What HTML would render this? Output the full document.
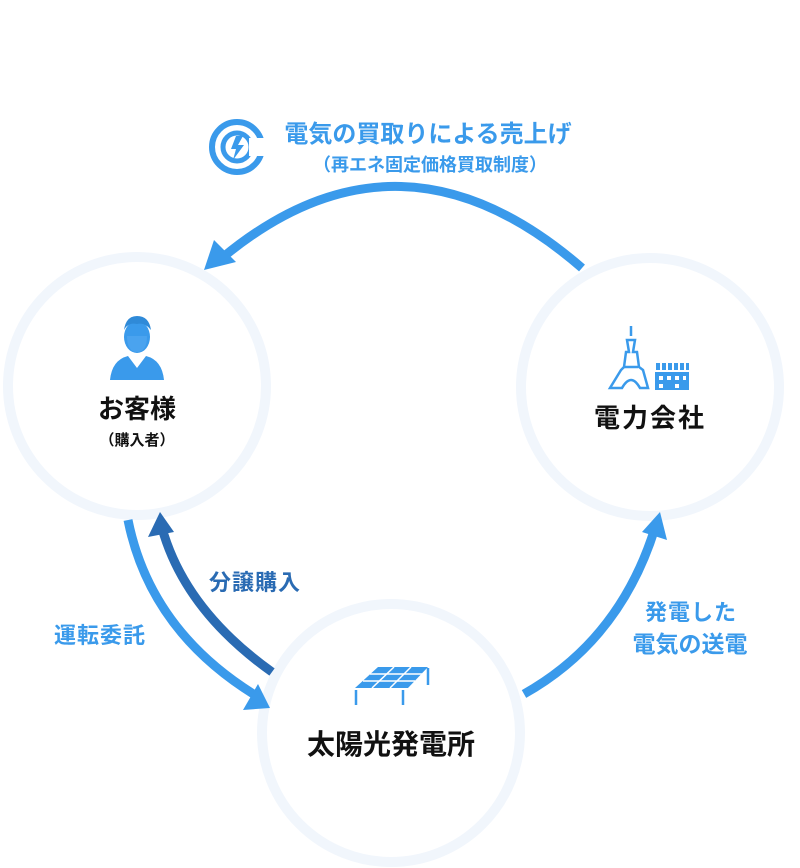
<!DOCTYPE html>
<html><head><meta charset="utf-8"><style>
html,body{margin:0;padding:0;background:#fff;}
svg{display:block;}
text{font-family:"Liberation Sans","Noto Sans CJK JP",sans-serif;font-weight:bold;}
</style></head><body>
<svg width="800" height="868" viewBox="0 0 800 868" xmlns="http://www.w3.org/2000/svg">
<!-- circles -->
<g fill="#fff" stroke="#f1f6fc" stroke-width="10">
<circle cx="137" cy="386" r="129"/>
<circle cx="650" cy="387" r="129"/>
<circle cx="391" cy="733" r="129"/>
</g>
<!-- top arrow -->
<path d="M582 268 Q400 110 222 258" fill="none" stroke="#3a9aeb" stroke-width="9"/>
<polygon points="204,270 214,240 236,262" fill="#3a9aeb"/>
<!-- right arrow -->
<path d="M524 694 Q620 640 655 528" fill="none" stroke="#3a9aeb" stroke-width="9"/>
<polygon points="660,512 667,540 642,532" fill="#3a9aeb"/>
<!-- left light arrow -->
<path d="M128 520 Q150 630 255 695" fill="none" stroke="#3a9aeb" stroke-width="9"/>
<polygon points="270,708 243,710 258,684" fill="#3a9aeb"/>
<!-- left dark arrow -->
<path d="M272 672 Q185 610 162 528" fill="none" stroke="#2a6bb3" stroke-width="9"/>
<polygon points="160,512 174,532 148,537" fill="#2a6bb3"/>
<!-- top icon -->
<circle cx="237" cy="147" r="25" fill="none" stroke="#3a9aeb" stroke-width="6"/>
<circle cx="237" cy="147" r="14" fill="none" stroke="#3a9aeb" stroke-width="5"/>
<rect x="249" y="138" width="16" height="18" fill="#fff"/>
<polygon points="236,136 243,136 238,145 244,145 233,160 236,149 231,149" fill="#3a9aeb"/>
<text x="428" y="142" font-size="24" fill="#3a9aeb" text-anchor="middle">電気の買取りによる売上げ</text>
<text x="430" y="171" font-size="18" font-weight="normal" fill="#3a9aeb" text-anchor="middle">（再エネ固定価格買取制度）</text>
<!-- person icon -->
<g fill="#3a9aeb">
<ellipse cx="137" cy="337" rx="13" ry="16"/>
<path d="M110 380 Q112 360 128 356 L137 368 L146 356 Q162 360 164 380 Z"/>
<path d="M124 330 Q126 316 137 316 Q149 316 151 330 Q145 322 137 324 Q128 322 124 330Z" fill="#2f8ad8"/>
</g>
<path d="M127 336 Q127 352 137 352 Q147 352 147 336" fill="#4aa3ef"/>
<text x="137" y="418" font-size="26" fill="#111" text-anchor="middle">お客様</text>
<text x="137" y="445" font-size="15" fill="#111" text-anchor="middle">（購入者）</text>
<!-- tower icon -->
<g fill="none" stroke="#3a9aeb" stroke-width="2.5">
<path d="M631 326 L631 336 M627 340 L635 340 L633 352 L637 352 L639 367 L643 370 L648 388 L640 388 Q631 372 622 388 L610 388 L621 370 L624 367 L626 352 L629 352 Z"/>
<path d="M624 367 L638 367"/>
</g>
<g fill="#3a9aeb">
<rect x="656" y="363" width="4" height="7"/><rect x="662" y="363" width="4" height="7"/><rect x="668" y="363" width="4" height="7"/><rect x="674" y="363" width="4" height="7"/><rect x="680" y="363" width="4" height="7"/><rect x="686" y="363" width="3" height="7"/>
<path d="M655 372 H689 V390 H655Z M659 376 v4 h4 v-4z M667 376 v4 h4 v-4z M675 376 v4 h4 v-4z M683 376 v4 h3 v-4z M659 384 v4 h4 v-4z M675 384 v4 h4 v-4z"/>
</g>
<text x="650" y="427" font-size="26" fill="#111" text-anchor="middle" letter-spacing="2">電力会社</text>
<!-- solar icon -->
<g fill="#3a9aeb">
<polygon points="378,667 428,667 408,688 355,688"/>
</g>
<g stroke="#fff" stroke-width="1.5">
<line x1="394" y1="667" x2="372" y2="688"/><line x1="411" y1="667" x2="390" y2="688"/>
<line x1="370" y1="674" x2="422" y2="674"/><line x1="363" y1="681" x2="415" y2="681"/>
</g>
<g stroke="#3a9aeb" stroke-width="2.5">
<line x1="356" y1="690" x2="356" y2="705"/><line x1="403" y1="690" x2="403" y2="705"/><line x1="428" y1="668" x2="428" y2="685"/>
</g>
<text x="391" y="754" font-size="28" fill="#111" text-anchor="middle">太陽光発電所</text>
<!-- labels -->
<text x="255" y="590" font-size="22" fill="#2a6bb3" text-anchor="middle" letter-spacing="1">分譲購入</text>
<text x="100" y="643" font-size="22" fill="#3a9aeb" text-anchor="middle" letter-spacing="1">運転委託</text>
<text x="691" y="620" font-size="22" fill="#3a9aeb" text-anchor="middle" letter-spacing="1">発電した</text>
<text x="690" y="652" font-size="23" fill="#3a9aeb" text-anchor="middle">電気の送電</text>
</svg>
</body></html>
